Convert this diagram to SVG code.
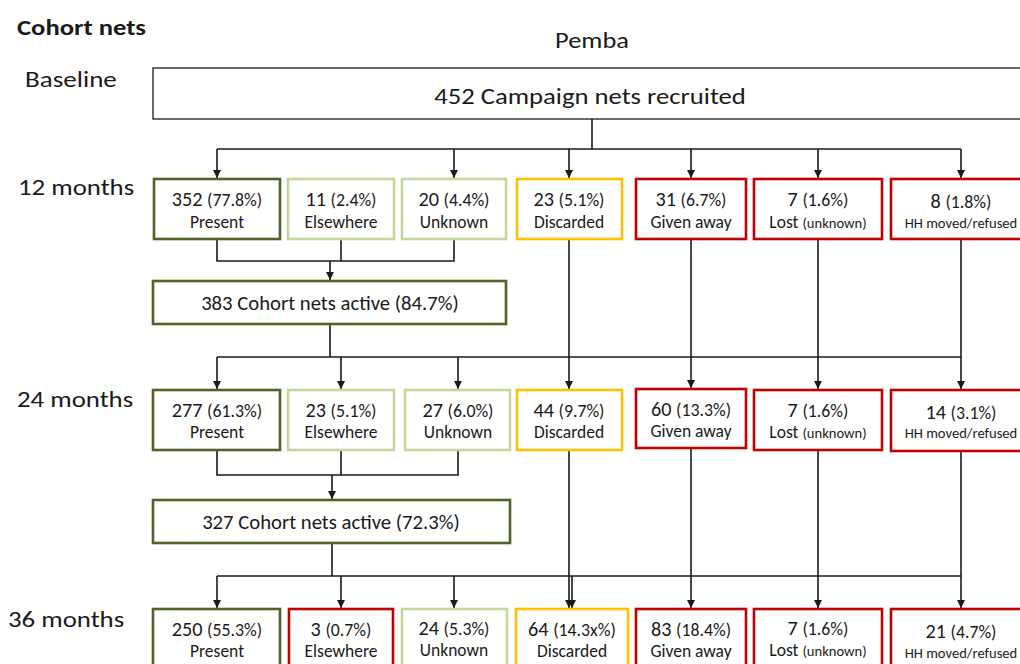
<svg xmlns="http://www.w3.org/2000/svg" width="1020" height="664" viewBox="0 0 1020 664">
<style>
text{font-family:Carlito,Lato,"Liberation Sans",sans-serif;fill:#1a1a1a;text-anchor:middle}
.hdr{text-anchor:start;font-size:22px}
.b{fill:#fff;stroke-width:2.6}
.dg{stroke:#4f6228}
.lg{stroke:#c4d79b}
.yl{stroke:#ffc000}
.rd{stroke:#c00000}
.n{font-size:20.2px}
.p{font-size:17.8px}
.l{font-size:17.5px}
.s{font-size:14.6px}
.act{font-size:20.7px}
.c path{fill:none;stroke:#1a1a1a;stroke-width:1.6}
.c .a{marker-end:url(#ar)}
</style>
<defs>
<marker id="ar" viewBox="0 0 10 10" refX="10" refY="5" markerWidth="10" markerHeight="8" orient="auto" markerUnits="userSpaceOnUse">
<path d="M0,0 L10,5 L0,10 z" fill="#1a1a1a"/>
</marker>
</defs>
<rect width="1020" height="664" fill="#fff"/>

<g id="labels">
<text class="hdr" transform="translate(17,35) scale(1.21,1)" style="font-weight:bold">Cohort nets</text>
<text transform="translate(592,48) scale(1.2,1)" style="font-size:22px">Pemba</text>
<text class="hdr" transform="translate(25,87) scale(1.23,1)">Baseline</text>
<text class="hdr" transform="translate(18,195) scale(1.22,1)">12 months</text>
<text class="hdr" transform="translate(17,407) scale(1.22,1)">24 months</text>
<text class="hdr" transform="translate(8,627) scale(1.22,1)">36 months</text>
</g>

<g class="c" id="connectors">
<path d="M592,119 V149 M217,149 H961"/>
<path class="a" d="M217,149 V178"/>
<path class="a" d="M454,149 V178"/>
<path class="a" d="M569,149 V178"/>
<path class="a" d="M691,149 V178"/>
<path class="a" d="M818,149 V178"/>
<path class="a" d="M961,149 V178"/>
<path d="M217,240 V261 H454 V240 M341,240 V261"/>
<path class="a" d="M330,261 V280"/>
<path class="a" d="M569,240 V389"/>
<path class="a" d="M691,240 V388"/>
<path class="a" d="M818,240 V389"/>
<path class="a" d="M961,240 V389"/>
<path d="M330,325 V357 M217,357 H961"/>
<path class="a" d="M217,357 V389"/>
<path class="a" d="M341,357 V389"/>
<path class="a" d="M458,357 V389"/>
<path d="M217,451 V475 H458 V451 M341,451 V475"/>
<path class="a" d="M332,475 V499"/>
<path class="a" d="M569,451 V608"/>
<path class="a" d="M691,449 V608"/>
<path class="a" d="M818,451 V608"/>
<path class="a" d="M961,452 V608"/>
<path d="M332,544 V576 M217,576 H961"/>
<path class="a" d="M217,576 V608"/>
<path class="a" d="M341,576 V608"/>
<path class="a" d="M454,576 V608"/>
<path class="a" d="M572,576 V608"/>
</g>

<g id="baseline"><rect x="153" y="68" width="880" height="51" fill="#fff" stroke="#1a1a1a" stroke-width="1.3"/><text transform="translate(590,104) scale(1.16,1)" style="font-size:23px">452 Campaign nets recruited</text></g>

<g id="m12-present"><rect class="b dg" x="154" y="179" width="126" height="60"/><text x="217" y="206"><tspan class="n">352 </tspan><tspan class="p">(77.8%)</tspan></text><text class="l" x="217" y="228">Present</text></g>
<g id="m12-elsewhere"><rect class="b lg" x="288" y="179" width="106" height="60"/><text x="341" y="206"><tspan class="n">11 </tspan><tspan class="p">(2.4%)</tspan></text><text class="l" x="341" y="228">Elsewhere</text></g>
<g id="m12-unknown"><rect class="b lg" x="402" y="179" width="104" height="60"/><text x="454" y="206"><tspan class="n">20 </tspan><tspan class="p">(4.4%)</tspan></text><text class="l" x="454" y="228">Unknown</text></g>
<g id="m12-discarded"><rect class="b yl" x="517" y="179" width="105" height="60"/><text x="569" y="206"><tspan class="n">23 </tspan><tspan class="p">(5.1%)</tspan></text><text class="l" x="569" y="228">Discarded</text></g>
<g id="m12-given"><rect class="b rd" x="636" y="179" width="110" height="60"/><text x="691" y="206"><tspan class="n">31 </tspan><tspan class="p">(6.7%)</tspan></text><text class="l" x="691" y="228">Given away</text></g>
<g id="m12-lost"><rect class="b rd" x="754" y="179" width="128" height="60"/><text x="818" y="206"><tspan class="n">7 </tspan><tspan class="p">(1.6%)</tspan></text><text x="818" y="228"><tspan class="l">Lost </tspan><tspan class="s">(unknown)</tspan></text></g>
<g id="m12-hh"><rect class="b rd" x="891" y="179" width="140" height="60"/><text x="961" y="208"><tspan class="n">8 </tspan><tspan class="p">(1.8%)</tspan></text><text class="s" x="961" y="228">HH moved/refused</text></g>

<g id="active12"><rect class="b dg" x="153" y="281" width="353" height="43"/><text class="act" x="330" y="310">383 Cohort nets active (84.7%)</text></g>

<g id="m24-present"><rect class="b dg" x="153" y="390" width="127" height="60"/><text x="217" y="417"><tspan class="n">277 </tspan><tspan class="p">(61.3%)</tspan></text><text class="l" x="217" y="438">Present</text></g>
<g id="m24-elsewhere"><rect class="b lg" x="288" y="390" width="106" height="60"/><text x="341" y="417"><tspan class="n">23 </tspan><tspan class="p">(5.1%)</tspan></text><text class="l" x="341" y="438">Elsewhere</text></g>
<g id="m24-unknown"><rect class="b lg" x="405" y="390" width="105" height="60"/><text x="458" y="417"><tspan class="n">27 </tspan><tspan class="p">(6.0%)</tspan></text><text class="l" x="458" y="438">Unknown</text></g>
<g id="m24-discarded"><rect class="b yl" x="517" y="390" width="105" height="60"/><text x="569" y="417"><tspan class="n">44 </tspan><tspan class="p">(9.7%)</tspan></text><text class="l" x="569" y="438">Discarded</text></g>
<g id="m24-given"><rect class="b rd" x="636" y="389" width="110" height="59"/><text x="691" y="416"><tspan class="n">60 </tspan><tspan class="p">(13.3%)</tspan></text><text class="l" x="691" y="437">Given away</text></g>
<g id="m24-lost"><rect class="b rd" x="754" y="390" width="128" height="60"/><text x="818" y="417"><tspan class="n">7 </tspan><tspan class="p">(1.6%)</tspan></text><text x="818" y="438"><tspan class="l">Lost </tspan><tspan class="s">(unknown)</tspan></text></g>
<g id="m24-hh"><rect class="b rd" x="891" y="390" width="140" height="61"/><text x="961" y="419"><tspan class="n">14 </tspan><tspan class="p">(3.1%)</tspan></text><text class="s" x="961" y="438">HH moved/refused</text></g>

<g id="active24"><rect class="b dg" x="153" y="500" width="357" height="43"/><text class="act" x="331" y="529">327 Cohort nets active (72.3%)</text></g>

<g id="m36-present"><rect class="b dg" x="153" y="609" width="127" height="70"/><text x="217" y="636"><tspan class="n">250 </tspan><tspan class="p">(55.3%)</tspan></text><text class="l" x="217" y="657">Present</text></g>
<g id="m36-elsewhere"><rect class="b rd" x="289" y="609" width="104" height="70"/><text x="341" y="636"><tspan class="n">3 </tspan><tspan class="p">(0.7%)</tspan></text><text class="l" x="341" y="657">Elsewhere</text></g>
<g id="m36-unknown"><rect class="b lg" x="402" y="609" width="105" height="70"/><text x="454" y="635"><tspan class="n">24 </tspan><tspan class="p">(5.3%)</tspan></text><text class="l" x="454" y="656">Unknown</text></g>
<g id="m36-discarded"><rect class="b yl" x="516" y="609" width="112" height="70"/><text x="572" y="636"><tspan class="n">64 </tspan><tspan class="p">(14.3x%)</tspan></text><text class="l" x="572" y="657">Discarded</text></g>
<g id="m36-given"><rect class="b rd" x="636" y="609" width="110" height="70"/><text x="691" y="636"><tspan class="n">83 </tspan><tspan class="p">(18.4%)</tspan></text><text class="l" x="691" y="657">Given away</text></g>
<g id="m36-lost"><rect class="b rd" x="754" y="609" width="128" height="70"/><text x="818" y="635"><tspan class="n">7 </tspan><tspan class="p">(1.6%)</tspan></text><text x="818" y="656"><tspan class="l">Lost </tspan><tspan class="s">(unknown)</tspan></text></g>
<g id="m36-hh"><rect class="b rd" x="891" y="609" width="140" height="70"/><text x="961" y="638"><tspan class="n">21 </tspan><tspan class="p">(4.7%)</tspan></text><text class="s" x="961" y="658">HH moved/refused</text></g>
</svg>
